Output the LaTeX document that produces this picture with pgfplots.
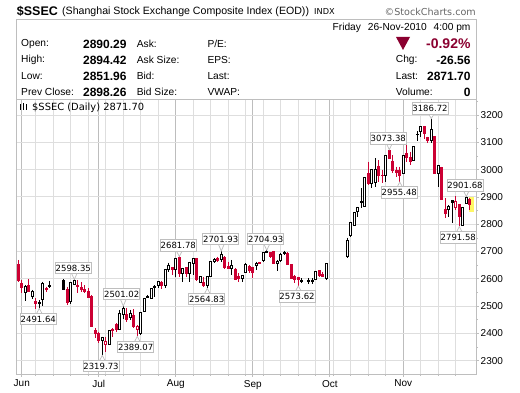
\documentclass[border=0pt]{standalone}
\usepackage{pgfplots}
\pgfplotsset{compat=1.18}
\usepackage{fontspec}
\setmainfont{Liberation Sans}
\newfontfamily\djv{DejaVu Sans}
\definecolor{cred}{HTML}{CC0033}
\definecolor{wine}{HTML}{8B0030}
\definecolor{frm}{HTML}{BEBEBE}
\definecolor{gmin}{HTML}{DEDEDE}
\definecolor{gmaj}{HTML}{BDBDBD}
\newcommand\fs[1]{\fontsize{#1}{#1}\selectfont}
% index, high, low, body top, body bottom
\newcommand\Cx[7]{%
 \addplot[#6,line width=1pt,forget plot] coordinates {(#1,#2)(#1,#3)};
 \addplot[draw=#6,fill=#7,line width=1pt,forget plot] coordinates {(#1-0.32,#4)(#1+0.32,#4)(#1+0.32,#5)(#1-0.32,#5)} -- cycle;}
\newcommand\R[5]{\Cx{#1}{#2}{#3}{#4}{#5}{cred}{cred}}
\newcommand\K[5]{\Cx{#1}{#2}{#3}{#4}{#5}{black}{black}}
\newcommand\Hh[5]{\Cx{#1}{#2}{#3}{#4}{#5}{black}{white}}
\newcommand\Oo[5]{\Cx{#1}{#2}{#3}{#4}{#5}{cred}{white}}
\newcommand\Lb[5]{%
 \draw[frm,fill=white,line width=.7pt] (#4-3,{391-#2+(#5>#2?-5:5)}) -- (#4,391-#5) -- (#4+3,{391-#2+(#5>#2?-5:5)});
 \node[draw=frm,fill=white,line width=.9pt,inner sep=0pt,minimum width=36pt,minimum height=11.5pt,font=\djv\fs{8.5}] at (#1,391-#2) {#3};}
\begin{document}
\begin{tikzpicture}
\begin{axis}[
 at={(16pt,17pt)},anchor=south west,scale only axis,width=460.7pt,height=275pt,
 xmin=-0.657,xmax=130.97,ymin=2251.3,ymax=3258.6,
 axis line style={frm,line width=.9pt},
 xtick={1,23,45,67,89,110},xticklabels={Jun,Jul,Aug,Sep,Oct,Nov},
 minor xtick={5,10,15,20,25,30,35,40,45,50,55,60,65,70,75,80,85,90,95,100,105,110,115,120,125},
 ytick={2300,2400,2500,2600,2700,2800,2900,3000,3100,3200},
 minor ytick={2250,2350,2450,2550,2650,2750,2850,2950,3050,3150,3250},
 xmajorgrids,xminorgrids,ymajorgrids,
 major x grid style={gmaj,line width=.9pt},
 minor x grid style={gmin,line width=.9pt},
 major y grid style={gmin,line width=.9pt},
 ytick pos=right,yticklabel pos=right,xtick pos=bottom,
 tick align=outside,major tick length=2.5pt,minor tick length=1.5pt,
 tick style={frm,line width=.7pt},
 tick label style={font=\fs{10},text=black},
 yticklabel style={/pgf/number format/assume math mode=true,/pgf/number format/1000 sep={},xshift=-2pt},
 xticklabel style={yshift=0pt},
 clip=false,axis on top=false,
]
\addplot[draw=none,fill=yellow!60,forget plot] coordinates {(128.7,2898)(130.3,2898)(130.3,2846)(128.7,2846)} -- cycle;
\R{0}{2669}{2587}{2651}{2593}
\R{1}{2596}{2547}{2581}{2568}
\Hh{2}{2577}{2520}{2571}{2550}
\R{3}{2598}{2553}{2577}{2553}
\Hh{4}{2559}{2525}{2555}{2535}
\R{5}{2528}{2489}{2516}{2510}
\K{6}{2522}{2491.64}{2514}{2510}
\Hh{7}{2590}{2502}{2583}{2525}
\R{8}{2571}{2553}{2565}{2560}
\K{9}{2592}{2565}{2577}{2571}
\K{13}{2598}{2559}{2592}{2560}
\R{14}{2571}{2504}{2559}{2513}
\Hh{15}{2590}{2508}{2586}{2516}
\Hh{16}{2598.35}{2577}{2592}{2580}
\R{17}{2596}{2547}{2577}{2570}
\R{18}{2587}{2553}{2568}{2561}
\R{19}{2577}{2547}{2561}{2553}
\R{20}{2565}{2528}{2552}{2532}
\R{21}{2541}{2422}{2537}{2427}
\R{22}{2419}{2382}{2412}{2398}
\R{23}{2406}{2366}{2398}{2373}
\Hh{24}{2388}{2319.73}{2386}{2375}
\Oo{25}{2388}{2333}{2369}{2359}
\Hh{26}{2412}{2358}{2411}{2359}
\R{27}{2419}{2388}{2415}{2410}
\R{28}{2437}{2406}{2431}{2415}
\Hh{29}{2486}{2412}{2474}{2416}
\Hh{30}{2501.02}{2452}{2492}{2470}
\R{31}{2492}{2443}{2471}{2452}
\Hh{32}{2486}{2449}{2474}{2459}
\R{33}{2488}{2419}{2467}{2425}
\Oo{34}{2431}{2389.07}{2426}{2415}
\Hh{35}{2480}{2394}{2477}{2398}
\Hh{36}{2531}{2480}{2528}{2482}
\K{37}{2541}{2528}{2536}{2531}
\Hh{38}{2565}{2525}{2564}{2528}
\K{39}{2577}{2532}{2572}{2567}
\Hh{40}{2592}{2565}{2589}{2577}
\R{41}{2592}{2563}{2586}{2575}
\Hh{42}{2636}{2565}{2633}{2576}
\Hh{43}{2659}{2626}{2647}{2635}
\R{44}{2644}{2614}{2643}{2633}
\Hh{45}{2677}{2608}{2675}{2635}
\R{46}{2681.78}{2608}{2679}{2620}
\Hh{47}{2641}{2590}{2638}{2620}
\R{48}{2644}{2605}{2641}{2620}
\Hh{49}{2663}{2590}{2660}{2620}
\Hh{50}{2677}{2614}{2675}{2655}
\R{51}{2677}{2593}{2675}{2596}
\Hh{52}{2610}{2583}{2608}{2587}
\R{53}{2608}{2571}{2587}{2574}
\Hh{54}{2610}{2564.83}{2608}{2576}
\Hh{55}{2666}{2605}{2664}{2608}
\Hh{56}{2675}{2657}{2671}{2664}
\R{57}{2681}{2663}{2676}{2666}
\Hh{58}{2701.93}{2663}{2690}{2671}
\R{59}{2683}{2635}{2679}{2641}
\R{60}{2663}{2635}{2644}{2638}
\Hh{61}{2669}{2614}{2648}{2636}
\R{62}{2638}{2596}{2635}{2598}
\R{63}{2620}{2590}{2608}{2600}
\Hh{64}{2614}{2590}{2611}{2602}
\Hh{65}{2657}{2620}{2653}{2624}
\R{66}{2651}{2622}{2644}{2629}
\R{67}{2644}{2602}{2642}{2624}
\Hh{68}{2663}{2632}{2657}{2648}
\R{69}{2663}{2654}{2660}{2657}
\Hh{70}{2699}{2663}{2697}{2666}
\K{71}{2704.93}{2693}{2699}{2697}
\R{72}{2699}{2675}{2697}{2681}
\R{73}{2702}{2653}{2699}{2655}
\Hh{74}{2669}{2630}{2665}{2657}
\Hh{75}{2696}{2663}{2690}{2666}
\K{76}{2703}{2687}{2697}{2693}
\R{77}{2697}{2651}{2693}{2653}
\R{78}{2653}{2598}{2651}{2600}
\R{79}{2614}{2586}{2608}{2596}
\R{80}{2608}{2573.62}{2605}{2596}
\K{81}{2602}{2583}{2593}{2591}
\K{83}{2602}{2581}{2592}{2589}
\K{84}{2602}{2581}{2592}{2589}
\Hh{85}{2630}{2596}{2627}{2599}
\R{86}{2632}{2608}{2629}{2613}
\R{87}{2626}{2605}{2614}{2608}
\Hh{88}{2657}{2596}{2655}{2602}
\Hh{94}{2751}{2677}{2742}{2681}
\Hh{95}{2809}{2754}{2807}{2757}
\Hh{96}{2846}{2795}{2843}{2797}
\Hh{97}{2864}{2825}{2861}{2845}
\K{98}{2931}{2858}{2883}{2879}
\Hh{99}{2972}{2862}{2970}{2864}
\R{100}{3029}{2944}{2986}{2950}
\Hh{101}{3001}{2931}{3000}{2950}
\Hh{102}{3041}{2937}{3001}{2951}
\R{103}{3035}{2956}{3010}{2980}
\R{104}{2999}{2952}{2980}{2978}
\Hh{105}{3053}{2956}{3052}{2977}
\R{106}{3073.38}{3038}{3069}{3039}
\R{107}{3053}{2986}{3031}{2995}
\R{108}{3011}{2974}{2995}{2991}
\R{109}{3011}{2955.48}{2995}{2977}
\Hh{110}{3053}{2984}{3052}{2985}
\R{111}{3090}{3029}{3060}{3044}
\R{112}{3066}{3017}{3045}{3029}
\Hh{113}{3084}{3033}{3084}{3034}
\K{114}{3141}{3106}{3130}{3128}
\Hh{115}{3160}{3121}{3157}{3140}
\R{116}{3160}{3111}{3158}{3133}
\R{117}{3121}{3096}{3117}{3108}
\Hh{118}{3186.72}{3096}{3147}{3106}
\R{119}{3123}{2984}{3122}{2986}
\Hh{120}{3017}{2937}{3014}{2986}
\R{121}{3011}{2889}{3008}{2891}
\R{122}{2895}{2821}{2854}{2839}
\Hh{123}{2870}{2828}{2865}{2854}
\K{124}{2889}{2806}{2886}{2880}
\Oo{125}{2903}{2852}{2883}{2862}
\R{126}{2874}{2791.58}{2873}{2828}
\Hh{127}{2863}{2795}{2862}{2796}
\Hh{128}{2901.68}{2877}{2898.26}{2877}
\R{129}{2894.42}{2851.96}{2890.29}{2871.70}
\end{axis}
\begin{scope}[x=1pt,y=1pt]
\path[use as bounding box] (0,0) rectangle (520,391);
% header
\draw[frm,line width=.9pt,fill=white] (16,391-19) rectangle (476.7,391-99);
\node[anchor=west,inner sep=0,font=\bfseries\fs{12.5}] at (16.7,391-11.7) {\$SSEC};
\node[anchor=west,inner sep=0,font=\fs{10.6}] at (62,391-11.7) {(Shanghai Stock Exchange Composite Index (EOD))};
\node[anchor=west,inner sep=0,font=\djv\fs{8.2}] at (314,391-11.7) {INDX};
\node[anchor=east,inner sep=0,font=\djv\fs{9.6},text=black!60] at (476,391-11.7) {©StockCharts.com};
% info rows
\foreach \yy/\a/\b/\c/\d in {44/Open:/2890.29/Ask:/P\slash E:,60/High:/2894.42/Ask Size:/EPS:,76/Low:/2851.96/Bid:/Last:,92/Prev Close:/2898.26/Bid Size:/VWAP:}{
 \node[anchor=west,inner sep=0,font=\fs{10.2}] at (21,391-\yy) {\a};
 \node[anchor=east,inner sep=0,font=\bfseries\fs{12}] at (126.7,391-\yy) {\b};
 \node[anchor=west,inner sep=0,font=\fs{10.2}] at (136.7,391-\yy) {\c};
 \node[anchor=west,inner sep=0,font=\fs{10.2}] at (207.3,391-\yy) {\d};
}
\node[anchor=east,inner sep=0,font=\fs{10.2}] at (470.7,391-28.3) {Friday\hspace{4pt} 26-Nov-2010\hspace{4pt} 4:00 pm};
\fill[wine] (396,391-37) -- (410,391-37) -- (403,391-50) -- cycle;
\node[anchor=east,inner sep=0,font=\bfseries\fs{14},text=wine] at (470.7,391-43.5) {-0.92\%};
\foreach \yy/\a/\b in {60/Chg:/-26.56,76/Last:/2871.70,92/Volume:/0}{
 \node[anchor=west,inner sep=0,font=\fs{10.2}] at (395.7,391-\yy) {\a};
 \node[anchor=east,inner sep=0,font=\bfseries\fs{12}] at (470.7,391-\yy) {\b};
}
% plot caption
\node[anchor=west,inner sep=0,font=\djv\fs{9.9}] at (32,391-107.7) {\$SSEC (Daily) 2871.70};
\fill (19.5,391-104.5) rectangle (21,391-110.5);
\fill (22.5,391-103.5) rectangle (24,391-110);
\fill (25.5,391-104.5) rectangle (27,391-110.5);
% callouts
\Lb{73.3}{268}{2598.35}{74.3}{279.4}
\Lb{38.3}{319}{2491.64}{39.3}{308.4}
\Lb{121.7}{294}{2501.02}{123.3}{306}
\Lb{101}{366}{2319.73}{102.3}{355.4}
\Lb{135.7}{347}{2389.07}{137.3}{336.4}
\Lb{178.3}{245.7}{2681.78}{179.3}{256.5}
\Lb{220.7}{239}{2701.93}{221.3}{251}
\Lb{206.7}{299}{2564.83}{207.3}{288.4}
\Lb{265.7}{239}{2704.93}{266.8}{250.2}
\Lb{297}{296.3}{2573.62}{298.3}{286}
\Lb{388.3}{138.3}{3073.38}{389.3}{149.7}
\Lb{430}{108.3}{3186.72}{431.3}{118.6}
\Lb{399.3}{192.7}{2955.48}{399.8}{182}
\Lb{465}{185.3}{2901.68}{466.3}{196.5}
\Lb{458.3}{237.3}{2791.58}{459.3}{226.6}
\end{scope}
\end{tikzpicture}
\end{document}
